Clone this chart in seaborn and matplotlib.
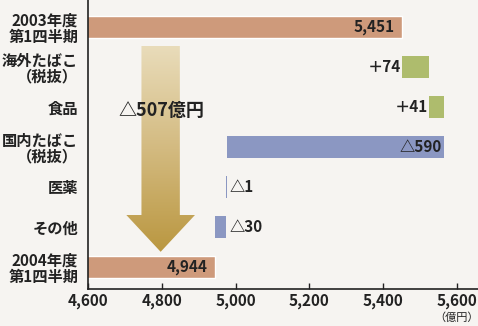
import numpy as np
import pandas as pd
import matplotlib
matplotlib.use('Agg')
import matplotlib.pyplot as plt
import seaborn as sns
from matplotlib.patches import Polygon

# data (億円)
categories = ['2003年度\n第1四半期', '海外たばこ\n（税抜）', '食品', '国内たばこ\n（税抜）',
              '医薬', 'その他', '2004年度\n第1四半期']
start_total = 5451
changes = [74, 41, -590, -1, -30]
end_total = 4944
change_labels = ['＋74', '＋41', '△590', '△1', '△30']
total_change_label = '△507億円'
xticks = [4600, 4800, 5000, 5200, 5400, 5600]

c_total = '#CE9A7B'
c_up = '#AEBC6D'
c_down = '#8B97C2'
bg = '#F6F4F1'
txt = '#222222'
fw = 'bold'

sns.set_theme(style='white')
plt.rcParams['font.family'] = ['Noto Sans CJK JP', 'DejaVu Sans']

fig = plt.figure(figsize=(4.78, 3.26), dpi=100, facecolor=bg)
ax = fig.add_axes([0.184, 0.1135, 0.816, 0.8865])
ax.set_facecolor(bg)

# totals via seaborn
tot = pd.DataFrame({'cat': [categories[0], categories[-1]], 'val': [start_total, end_total]})
sns.barplot(data=tot, y='cat', x='val', order=categories, color=c_total,
            saturation=1, width=0.55, ax=ax, orient='h')

# floating change bars
level = start_total
for i, d in enumerate(changes):
    left = level if d > 0 else level + d
    ax.barh(i + 1, abs(d), left=left, height=0.55,
            color=c_up if d > 0 else c_down, linewidth=0, zorder=3)
    end = level + d
    if i == 2:
        ax.text(level - 8, i + 1, change_labels[i], ha='right', va='center',
                fontsize=11, color=txt, fontweight=fw, zorder=5)
    elif d > 0:
        ax.text(left - 4, i + 1, change_labels[i], ha='right', va='center',
                fontsize=11, color=txt, fontweight=fw, zorder=5)
    else:
        ax.text(level + 8, i + 1, change_labels[i], ha='left', va='center',
                fontsize=11, color=txt, fontweight=fw, zorder=5)
    level = end

ax.text(start_total - 20, 0, f'{start_total:,}', ha='right', va='center',
        fontsize=11, color=txt, fontweight=fw, zorder=5)
ax.text(end_total - 20, 6, f'{end_total:,}', ha='right', va='center',
        fontsize=11, color=txt, fontweight=fw, zorder=5)

# gradient arrow for total change
ax.set_xlim(4600, 5657)
ax.set_ylim(6.55, -0.675)
ax_x = 4797
sw, hw = 52, 93
ytop, yhead, ytip = 0.47, 4.7, 5.62
pts = [(ax_x - sw, ytop), (ax_x + sw, ytop), (ax_x + sw, yhead), (ax_x + hw, yhead),
       (ax_x, ytip), (ax_x - hw, yhead), (ax_x - sw, yhead)]
arrow = Polygon(pts, closed=True, facecolor='none', edgecolor='none')
ax.add_patch(arrow)
grad = np.linspace(0, 1, 256).reshape(-1, 1)
cmap = matplotlib.colors.LinearSegmentedColormap.from_list(
    'gold', ['#E9DCBA', '#D3BA80', '#BA9740'])
im = ax.imshow(grad, cmap=cmap, aspect='auto', extent=(ax_x - hw, ax_x + hw, ytip, ytop),
               zorder=2, interpolation='bilinear')
im.set_clip_path(arrow)
ax.text(4800, 2.08, total_change_label, ha='center', va='center', fontsize=13,
        color=txt, fontweight=fw, zorder=5)

# axes styling
ax.set_xticks(xticks)
ax.set_xticklabels([f'{v:,}' for v in xticks], fontsize=11, color=txt, fontweight=fw)
ax.set_yticks(range(len(categories)))
ax.set_yticklabels(categories, fontsize=11, color=txt, fontweight=fw, linespacing=1.0)
ax.set_xlabel('')
ax.set_ylabel('')
ax.tick_params(axis='x', direction='in', length=4, width=1, color=txt, pad=3, bottom=True)
ax.tick_params(axis='y', length=0, pad=7)
for s in ['top', 'right']:
    ax.spines[s].set_visible(False)
for s in ['left', 'bottom']:
    ax.spines[s].set_color(txt)
    ax.spines[s].set_linewidth(1.2)
for lbl in ax.get_yticklabels():
    lbl.set_horizontalalignment('right')
    lbl.set_multialignment('right')

fig.text(0.955, 0.008, '（億円）', fontsize=8, ha='center', va='bottom', color=txt)

fig.savefig('out.png', dpi=100, facecolor=bg)
